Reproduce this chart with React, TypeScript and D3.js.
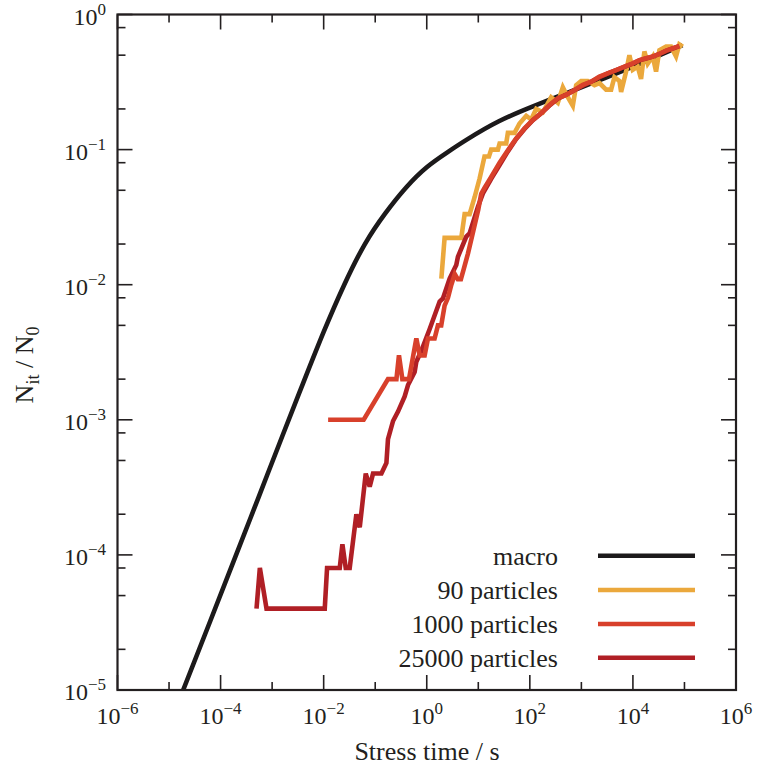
import React from "react";
import * as d3 from "d3";

// ---- Data ----
const macroTime = [1.88e-5, 6.31e-5, 2.0e-4, 5.62e-4, 1.58e-3, 3.98e-3, 0.01, 0.0251, 0.0631, 0.158, 0.398, 1, 2.51, 6.31, 25.1, 115, 501, 2239, 1e4, 91200];
const macroValue = [1.0e-5, 3.24e-5, 1.0e-4, 2.75e-4, 7.59e-4, 1.86e-3, 4.47e-3, 0.01, 0.02, 0.0339, 0.0525, 0.0741, 0.0955, 0.12, 0.162, 0.209, 0.261, 0.327, 0.411, 0.594];

const time90 = [1.92, 2.22, 4.68, 5.43, 6.79, 8.48, 10.6, 13.2, 16.1, 17.8, 24.0, 25.9, 34.8, 37.5, 50.5, 63.1, 85.1, 106, 133, 179, 259, 349, 437, 546, 682, 792, 990, 1334, 1795, 2241, 3020, 3776, 4378, 5475, 5900, 7380, 8550, 9930, 12400, 14390, 16700, 19400, 24270, 28120, 32660, 43970, 54950, 68700, 79620, 92470];
const value90 = [0.0111, 0.0222, 0.0222, 0.0333, 0.0333, 0.0444, 0.0611, 0.0889, 0.0889, 0.1, 0.1, 0.111, 0.111, 0.133, 0.133, 0.156, 0.178, 0.167, 0.2, 0.189, 0.244, 0.222, 0.289, 0.244, 0.211, 0.3, 0.322, 0.322, 0.3, 0.311, 0.278, 0.278, 0.344, 0.322, 0.267, 0.378, 0.5, 0.389, 0.411, 0.333, 0.533, 0.433, 0.489, 0.378, 0.544, 0.578, 0.578, 0.489, 0.6, 0.578];

const time1000 = [0.0122, 0.0598, 0.177, 0.258, 0.289, 0.336, 0.452, 0.628, 0.728, 0.91, 1.055, 1.42, 1.65, 1.91, 2.22, 2.58, 3.0, 3.5, 4.0, 4.6, 5.2, 6.3, 8.0, 10.0, 11.4, 13.2, 17.9, 25.9, 37.5, 54.4, 78.9, 114.5, 166, 241, 349, 507, 735, 1066, 1549, 2240, 3250, 4720, 6840, 9930, 13370, 17990, 24270, 32660, 43970, 59200, 79620];
const value1000 = [0.001, 0.001, 0.002, 0.002, 0.003, 0.002, 0.002, 0.004, 0.003, 0.003, 0.004, 0.004, 0.005, 0.005, 0.007, 0.008, 0.010, 0.012, 0.011, 0.011, 0.013, 0.017, 0.025, 0.036, 0.047, 0.052, 0.063, 0.080, 0.099, 0.121, 0.144, 0.166, 0.186, 0.214, 0.240, 0.254, 0.276, 0.301, 0.318, 0.347, 0.367, 0.388, 0.411, 0.435, 0.460, 0.474, 0.488, 0.510, 0.540, 0.562, 0.585];

const time25000 = [0.000498, 0.000578, 0.000778, 0.0105, 0.01164, 0.0205, 0.0231, 0.0268, 0.032, 0.0431, 0.0501, 0.0655, 0.0782, 0.0907, 0.132, 0.165, 0.177, 0.222, 0.277, 0.373, 0.433, 0.582, 0.628, 0.785, 1.14, 1.78, 2.06, 2.78, 3.74, 4.03, 5.85, 6.78, 9.85, 12.3, 17.9, 25.9, 37.5, 54.4, 78.9, 114.5, 166, 241, 349, 507, 735, 1066, 1549, 2240, 3250, 4720, 6840, 9930, 13370, 17990, 24270, 32660, 43970, 59200, 79620];
const value25000 = [4e-5, 8e-5, 4e-5, 4e-5, 8e-5, 8e-5, 1.2e-4, 8e-5, 8e-5, 2e-4, 1.6e-4, 4e-4, 3.2e-4, 4e-4, 4e-4, 4.8e-4, 7.2e-4, 9.8e-4, 1.15e-3, 1.49e-3, 1.81e-3, 2.26e-3, 2.69e-3, 3.24e-3, 4.7e-3, 7.5e-3, 7.9e-3, 0.0111, 0.014, 0.0161, 0.0227, 0.024, 0.0378, 0.0474, 0.061, 0.077, 0.097, 0.12, 0.142, 0.165, 0.186, 0.212, 0.238, 0.255, 0.275, 0.298, 0.318, 0.343, 0.366, 0.387, 0.41, 0.433, 0.458, 0.473, 0.488, 0.51, 0.538, 0.56, 0.583];

const seriesNames = ["macro", "90 particles", "1000 particles", "25000 particles"];
const seriesColors = ["#1c1a1b", "#eba83c", "#d8402b", "#b01f25"];

const xTickExponents = [-6, -4, -2, 0, 2, 4, 6];
const yTickExponents = [0, -1, -2, -3, -4, -5];

const W = 758;
const H = 769;
const L = 117.5, R = 736, T = 14.5, B = 690;
const AX = "#231f20";
const FONT = "'Liberation Serif', 'Times New Roman', serif";

function sup(e: number) {
  return e < 0 ? "\u2212" + Math.abs(e) : String(e);
}

export default function App() {
  const x = d3.scaleLog().domain([1e-6, 1e6]).range([L, R]);
  const y = d3.scaleLog().domain([1e-5, 1]).range([B, T]);

  const zip = (a: number[], b: number[]) => a.map((v, i) => [v, b[i]] as [number, number]);
  const lin = d3.line<[number, number]>().x((d) => x(d[0])).y((d) => y(d[1]));
  const smooth = d3.line<[number, number]>().x((d) => x(d[0])).y((d) => y(d[1])).curve(d3.curveNatural);

  const drawOrder = [
    { d: smooth(zip(macroTime, macroValue)), c: seriesColors[0] },
    { d: lin(zip(time90, value90)), c: seriesColors[1] },
    { d: lin(zip(time25000, value25000)), c: seriesColors[3] },
    { d: lin(zip(time1000, value1000)), c: seriesColors[2] },
  ];

  // ticks
  const xMajor: number[] = [];
  const xMinor: number[] = [];
  for (let e = -6; e <= 6; e++) {
    if (e % 2 === 0) xMajor.push(Math.pow(10, e));
    else xMinor.push(Math.pow(10, e));
  }
  const yMajor: number[] = [];
  const yMinor: number[] = [];
  for (let e = -5; e <= 0; e++) {
    yMajor.push(Math.pow(10, e));
    if (e < 0) [2, 5, 8].forEach((m) => yMinor.push(m * Math.pow(10, e)));
  }
  const MAJ = 15, MIN = 8;

  const legendY = [555.7, 590, 624, 657.7];

  return (
    <svg width={W} height={H} style={{ position: "absolute", left: 0, top: 0, background: "#fff" }} fontFamily={FONT}>
      <defs>
        <clipPath id="plotclip">
          <rect x={L} y={T} width={R - L} height={B - T} />
        </clipPath>
      </defs>
      <rect x={0} y={0} width={W} height={H} fill="#fff" />
      <g clipPath="url(#plotclip)">
        {drawOrder.map((s, i) => (
          <path key={i} d={s.d || ""} fill="none" stroke={s.c} strokeWidth={4.6} strokeLinejoin="miter" strokeMiterlimit={3} />
        ))}
      </g>
      {/* ticks */}
      <g stroke={AX} strokeWidth={1.6}>
        {xMajor.map((v, i) => (
          <g key={"xm" + i}>
            <line x1={x(v)} x2={x(v)} y1={B} y2={B - MAJ} />
            <line x1={x(v)} x2={x(v)} y1={T} y2={T + MAJ} />
          </g>
        ))}
        {xMinor.map((v, i) => (
          <g key={"xn" + i}>
            <line x1={x(v)} x2={x(v)} y1={B} y2={B - MIN} />
            <line x1={x(v)} x2={x(v)} y1={T} y2={T + MIN} />
          </g>
        ))}
        {yMajor.map((v, i) => (
          <g key={"ym" + i}>
            <line x1={L} x2={L + MAJ} y1={y(v)} y2={y(v)} />
            <line x1={R} x2={R - MAJ} y1={y(v)} y2={y(v)} />
          </g>
        ))}
        {yMinor.map((v, i) => (
          <g key={"yn" + i}>
            <line x1={L} x2={L + MIN} y1={y(v)} y2={y(v)} />
            <line x1={R} x2={R - MIN} y1={y(v)} y2={y(v)} />
          </g>
        ))}
      </g>
      <rect x={L} y={T} width={R - L} height={B - T} fill="none" stroke={AX} strokeWidth={2.2} />
      {/* x tick labels */}
      {xTickExponents.map((e) => (
        <text key={"xl" + e} x={x(Math.pow(10, e))} y={724} textAnchor="middle" fontSize={24} fill={AX}>
          10<tspan fontSize={17} dy={-10}>{sup(e)}</tspan>
        </text>
      ))}
      {/* y tick labels */}
      {yTickExponents.map((e) => (
        <text key={"yl" + e} x={106} y={y(Math.pow(10, e)) + 10} textAnchor="end" fontSize={24} fill={AX}>
          10<tspan fontSize={17} dy={-10}>{sup(e)}</tspan>
        </text>
      ))}
      {/* axis titles */}
      <text x={427} y={760} textAnchor="middle" fontSize={26} fill={AX}>Stress time / s</text>
      <text transform={`translate(33, ${365}) rotate(-90)`} textAnchor="middle" fontSize={26} fill={AX}>
        N<tspan fontSize={18} dy={6}>it</tspan><tspan dy={-6}> / N</tspan><tspan fontSize={18} dy={6}>0</tspan>
      </text>
      {/* legend */}
      {seriesNames.map((n, i) => (
        <g key={"lg" + i}>
          <text x={558} y={legendY[i] + 9} textAnchor="end" fontSize={26} fill={AX}>{n}</text>
          <line x1={598} x2={695} y1={legendY[i]} y2={legendY[i]} stroke={seriesColors[i]} strokeWidth={4.6} />
        </g>
      ))}
    </svg>
  );
}
